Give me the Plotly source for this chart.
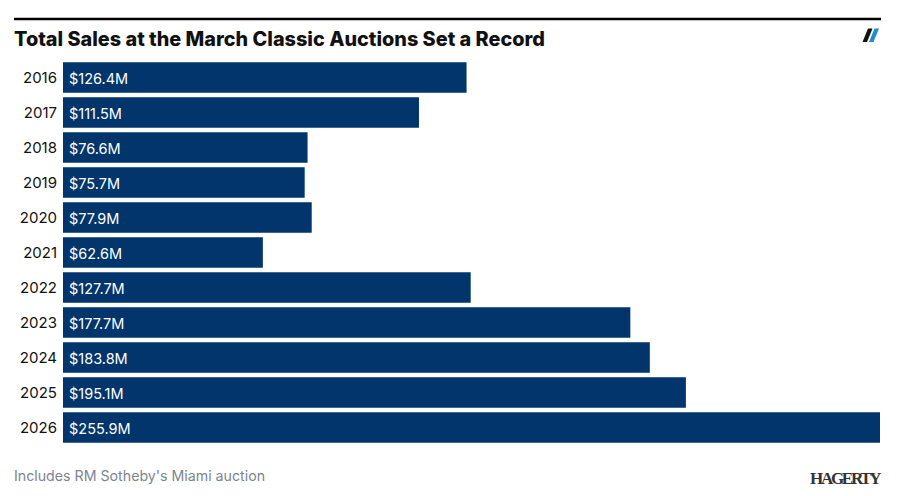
import plotly.graph_objects as go

years = ["2016","2017","2018","2019","2020","2021","2022","2023","2024","2025","2026"]
sales = [126.4,111.5,76.6,75.7,77.9,62.6,127.7,177.7,183.8,195.1,255.9]
labels = ["$126.4M","$111.5M","$76.6M","$75.7M","$77.9M","$62.6M","$127.7M","$177.7M","$183.8M","$195.1M","$255.9M"]
title = "Total Sales at the March Classic Auctions Set a Record"
note = "Includes RM Sotheby's Miami auction"
brand = "HAGERTY"

W, H = 905, 496
L, R, T, B = 63, 880, 60, 445.5
FONT = "Inter, 'Liberation Sans', sans-serif"

px = lambda x: (x - L) / (R - L)
py = lambda y: (B - y) / (B - T)
def poly(pts):
    return "M" + " L".join(f"{px(x):.5f},{py(y):.5f}" for x, y in pts) + " Z"

fig = go.Figure(go.Bar(
    x=sales, y=years, orientation="h", marker=dict(color="#01356b", line_width=0),
    cliponaxis=False, hoverinfo="skip",
))
bar_labels = [
    dict(text=t, x=0, y=i, xref="x", yref="y", xanchor="left", yanchor="middle", xshift=4, yshift=-1,
         showarrow=False, font=dict(family=FONT, size=14.5, color="white"))
    for i, t in enumerate(labels)
]
fig.update_layout(
    width=W, height=H, autosize=False, showlegend=False, bargap=0.125,
    paper_bgcolor="white", plot_bgcolor="white",
    margin=dict(l=L, r=W - R, t=T, b=H - B, pad=0),
    xaxis=dict(range=[0, 255.9], visible=False, fixedrange=True),
    yaxis=dict(type="category", categoryorder="array", categoryarray=years, range=[len(years) - 0.5, -0.5],
               showgrid=False, showline=False, ticks="", ticklen=0, ticklabelstandoff=5,
               tickfont=dict(family=FONT, size=15, color="#111111"), fixedrange=True),
    shapes=[
        dict(type="line", xref="paper", yref="paper", x0=px(14), x1=px(881), y0=py(19), y1=py(19),
             line=dict(color="black", width=2.5)),
        dict(type="path", xref="paper", yref="paper", path=poly([(862.5,42),(867,42),(872.5,28.5),(868,28.5)]),
             fillcolor="#111111", line_width=0),
        dict(type="path", xref="paper", yref="paper", path=poly([(869,42),(873.5,42),(879,28.5),(874.5,28.5)]),
             fillcolor="#1b8fcb", line_width=0),
    ],
    annotations=bar_labels + [
        dict(text=title, xref="paper", yref="paper", x=px(14), y=py(39), xanchor="left", yanchor="middle",
             xshift=-2, showarrow=False, font=dict(family=FONT, size=19.85, weight=800, color="#111111")),
        dict(text=note, xref="paper", yref="paper", x=px(14), y=py(476), xanchor="left", yanchor="middle",
             xshift=-2, showarrow=False, font=dict(family=FONT, size=14.2, color="#7d8590")),
        dict(text=f"<b>{brand}</b>", xref="paper", yref="paper", x=px(844.5), y=py(479), xanchor="center", yanchor="middle",
             showarrow=False, font=dict(family="'Liberation Serif', serif", size=17, color="#333333")),
    ],
)
post = """
document.body.style.margin='0';
document.querySelectorAll('.annotation-text').forEach(function(t){
  if (t.textContent === 'HAGERTY') { t.style.letterSpacing = '-2.3px'; }
});
"""
fig.write_html("out.html", config=dict(displayModeBar=False), post_script=post)
